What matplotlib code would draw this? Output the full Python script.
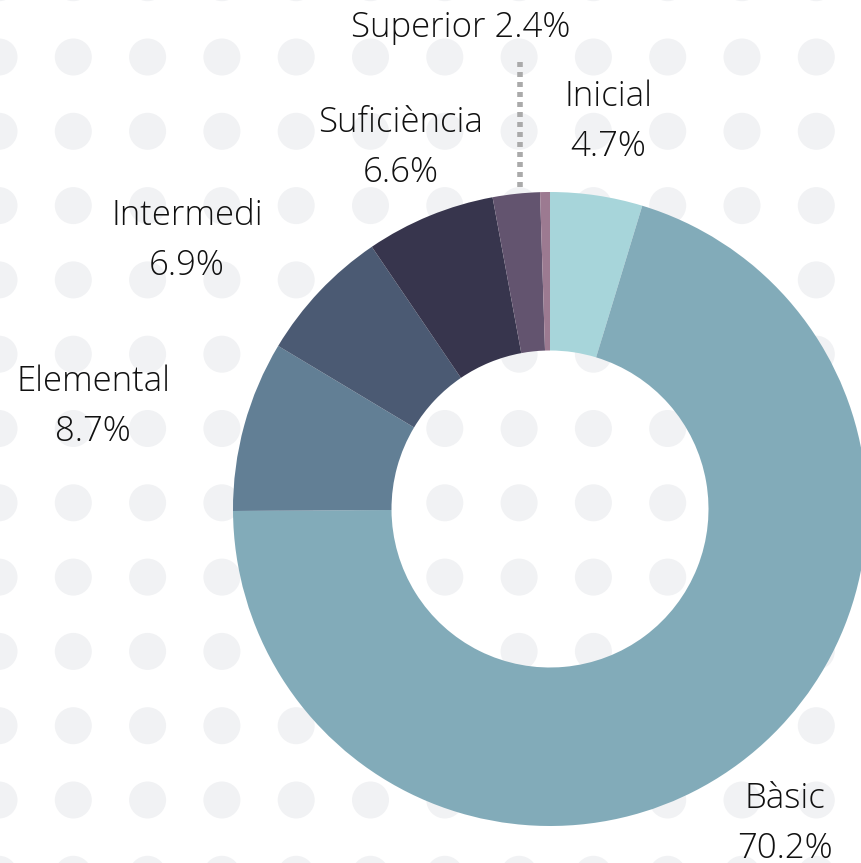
import matplotlib.pyplot as plt
import numpy as np

labels = ['Inicial', 'Bàsic', 'Elemental', 'Intermedi', 'Suficiència', 'Superior', '']
values = [4.7, 70.2, 8.7, 6.9, 6.6, 2.4, 0.5]
colors = ['#a7d5da', '#82abb9', '#627f95', '#4b5a73', '#37354d', '#63546f', '#9c7a91']

W, H = 861, 863
fig = plt.figure(figsize=(W / 100, H / 100), dpi=100)
ax = fig.add_axes([0, 0, 1, 1])

# background dot pattern
xs = np.arange(-1, W + 40, 74.3)
ys = np.arange(57 - 74.3, H + 40, 74.3)
gx, gy = np.meshgrid(xs, ys)
for x, y in zip(gx.ravel(), gy.ravel()):
    ax.add_patch(plt.Circle((x, H - y), 18.5, color='#f1f2f4', lw=0, zorder=0))

cx, cy, r = 550, H - 509, 317
ax.pie(values, colors=colors, startangle=90, counterclock=False,
       center=(cx, cy), radius=r,
       wedgeprops=dict(width=r * 0.5, linewidth=0))

# leader line for the small slice
ax.plot([520, 520], [H - 62, H - 187], color='#aaaaaa', lw=4,
        linestyle=(0, (0.9, 0.9)), solid_capstyle='butt', zorder=3)

font = dict(family='Open Sans', weight='light', size=25, color='#111111',
            ha='center', va='center')
label_pos = {
    'Inicial': (608, 97),
    'Bàsic': (785, 799),
    'Elemental': (93, 382),
    'Intermedi': (187, 216),
    'Suficiència': (401, 123),
}
for lab, val in zip(labels, values):
    if lab in label_pos:
        x, y = label_pos[lab]
        ax.text(x, H - y, lab, **font)
        ax.text(x, H - y - 50, f'{val}%', **font)
ax.text(461, H - 28, f'Superior {values[5]}%', **font)

ax.set_xlim(0, W)
ax.set_ylim(0, H)
ax.set_aspect('equal')
ax.axis('off')
fig.savefig('out.png', dpi=100, facecolor='white')
